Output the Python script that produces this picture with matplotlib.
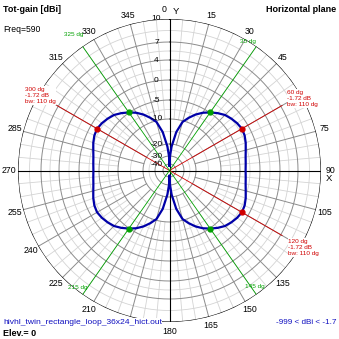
import numpy as np
import matplotlib
matplotlib.use('Agg')
import matplotlib.pyplot as plt

plt.rcParams['font.family'] = ['Liberation Sans', 'DejaVu Sans']

# horizontal plane pattern: azimuth (deg) and total gain (dBi)
azimuth = [0, 2, 5, 10, 15, 20, 25, 30, 35, 40, 45, 50, 55, 60, 65, 70, 75, 80, 85, 90,
           95, 100, 105, 110, 115, 120, 125, 130, 135, 140, 145, 150, 155, 160, 165, 170, 175, 178, 180,
           182, 185, 190, 195, 200, 205, 210, 215, 220, 225, 230, 235, 240, 245, 250, 255, 260, 265, 270,
           275, 280, 285, 290, 295, 300, 305, 310, 315, 320, 325, 330, 335, 340, 345, 350, 355, 358]
gain = [-45, -30, -22, -15, -10.5, -8.8, -7.3, -6.0, -4.9, -3.9, -3.0, -2.45, -2.0, -1.72, -1.9, -2.35, -2.9, -3.3, -3.5, -3.6,
        -3.5, -3.3, -2.9, -2.35, -1.9, -1.72, -2.0, -2.45, -3.0, -3.9, -4.9, -6.0, -7.3, -8.8, -10.5, -15, -22, -30, -45,
        -30, -22, -15, -10.5, -8.8, -7.3, -6.0, -4.9, -3.9, -3.0, -2.45, -2.0, -1.72, -1.9, -2.35, -2.9, -3.3, -3.5, -3.6,
        -3.5, -3.3, -2.9, -2.35, -1.9, -1.72, -2.0, -2.45, -3.0, -3.9, -4.9, -6.0, -7.3, -8.8, -10.5, -15, -22, -30]

ring_db = [10, 7, 4, 0, -5, -10, -20, -30, -40]
ring_minor_db = [8.5, 5.5, 2, -2.5, -7.5, -15, -25]

# max gain directions and -3 dB beam edges
peak_az = [60, 120, 300]
peak_text = ['60 dg\n-1.72 dB\nbw: 110 dg', '120 dg\n-1.72 dB\nbw: 110 dg', '300 dg\n-1.72 dB\nbw: 110 dg']
edge_az = [35, 145, 215, 325]
edge_text = ['35 dg', '145 dg', '215 dg', '325 dg']

# radial scale of the plot (dB -> radius), not linear
scale_db = [-60, -40, -30, -20, -10, -5, 0, 4, 7, 10, 30]
scale_r = [0, 6.5, 14.5, 26.5, 51.5, 70.5, 90.5, 110.5, 128.5, 151.5, 351.5]

def fwd(v):
    return np.interp(v, scale_db, scale_r)

def inv(r):
    return np.interp(r, scale_r, scale_db)

fig = plt.figure(figsize=(3.39, 3.39), dpi=100)
ax = fig.add_axes([18 / 339, 17 / 339, 303 / 339, 303 / 339], projection='polar')
ax.set_theta_zero_location('N')
ax.set_theta_direction(-1)
ax.set_rscale('function', functions=(fwd, inv))
ax.set_rlim(-60, 10)
ax.grid(False)
ax.set_xticks([])
ax.set_yticks([])
ax.spines['polar'].set_visible(False)

circ = np.linspace(0, 2 * np.pi, 721)
dark = '#8c8c8c'
light = '#d4d4d4'

# grid: light 5 deg spokes, darker 15 deg spokes
for a in range(0, 360, 5):
    t = np.deg2rad(a)
    if a % 90 == 0:
        ax.plot([t, t], [-60, 10], color='black', lw=0.8, zorder=3)
    elif a % 15 == 0:
        ax.plot([t, t], [-20, 10], color=dark, lw=0.7, zorder=2)
    else:
        ax.plot([t, t], [-10, 10], color=light, lw=0.6, zorder=1)

for v in ring_minor_db:
    ax.plot(circ, np.full_like(circ, v), color=light, lw=0.6, zorder=1)
for v in ring_db[1:]:
    ax.plot(circ, np.full_like(circ, v), color=dark, lw=0.7, zorder=2)
ax.plot(circ, np.full_like(circ, ring_db[0]), color='black', lw=0.8, zorder=3)

# ring labels along the 0 deg axis
for v in ring_db:
    ax.annotate(str(v), xy=(0, v), xytext=(-13, 0), textcoords='offset pixels',
                ha='center', va='center', fontsize=6, zorder=6)

# angle labels (60, 120, 195, 300 are hidden under other texts in the original)
for a in range(0, 360, 15):
    if a in (60, 120, 195, 300):
        continue
    t = np.deg2rad(a)
    dx = 9 * np.sin(t) - (5 if a == 0 else 0)
    ax.annotate(str(a), xy=(t, 10), xytext=(dx, 9 * np.cos(t)),
                textcoords='offset pixels', ha='center', va='center', fontsize=6.3,
                annotation_clip=False, zorder=6)
ax.annotate('Y', xy=(0, 10), xytext=(6, 8), textcoords='offset pixels',
            ha='center', va='center', fontsize=6.8, annotation_clip=False)
ax.annotate('X', xy=(np.pi / 2, 10), xytext=(8, -8), textcoords='offset pixels',
            ha='center', va='center', fontsize=6.8, annotation_clip=False)

# pattern
th = np.deg2rad(azimuth + [azimuth[0]])
ax.plot(th, gain + [gain[0]], color='#0000a8', lw=1.6, zorder=5)

red = '#d00000'
green = '#00a000'
peak_off = {60: (5, 7, 'left'), 120: (6, -12, 'left'), 300: (-32, 10, 'left')}
for a, txt in zip(peak_az, peak_text):
    t = np.deg2rad(a)
    g = gain[azimuth.index(a)]
    ax.plot([t, t], [-60, 7.2], color=red, lw=0.6, zorder=4)
    ax.plot(t, g, 'o', color=red, ms=3.5, zorder=6)
    dx, dy, ha = peak_off[a]
    ax.annotate(txt, xy=(t, 7.2), xytext=(dx, dy), textcoords='offset pixels',
                ha=ha, va='center', fontsize=4.6, color=red, linespacing=1.35,
                bbox=dict(facecolor='white', edgecolor='none', pad=0.3), zorder=7)

edge_off = {35: (-8, 5), 145: (-2, 8), 215: (-5, 7), 325: (-9, 12)}
for a, txt in zip(edge_az, edge_text):
    t = np.deg2rad(a)
    g = gain[azimuth.index(a)]
    ax.plot([t, t], [-60, 10], color=green, lw=0.6, zorder=4)
    ax.plot(t, g, 'o', color=green, ms=3.5, zorder=6)
    dx, dy = edge_off[a]
    ax.annotate(txt, xy=(t, 10), xytext=(dx, dy), textcoords='offset pixels',
                ha='center', va='center', fontsize=4.6, color=green, zorder=7)

fig.text(3 / 339, 1 - 9 / 339, 'Tot-gain [dBi]', fontsize=6.5, fontweight='bold', va='center')
fig.text(3 / 339, 1 - 30 / 339, 'Freq=590', fontsize=6.2, va='center')
fig.text(336 / 339, 1 - 9 / 339, 'Horizontal plane', fontsize=6.5, fontweight='bold', va='center', ha='right')
fig.text(3 / 339, 1 - 322 / 339, 'hivhl_twin_rectangle_loop_36x24_hict.out', fontsize=6.1,
         color='#1010c0', va='center',
         bbox=dict(facecolor='white', edgecolor='none', pad=0.2), zorder=8)
fig.text(3 / 339, 1 - 333 / 339, 'Elev.= 0', fontsize=6.5, fontweight='bold', va='center')
fig.text(336 / 339, 1 - 322 / 339, '-999 < dBi < -1.7', fontsize=5.9, color='#1010c0',
         va='center', ha='right')

fig.savefig('out.png', dpi=100, facecolor='white')
